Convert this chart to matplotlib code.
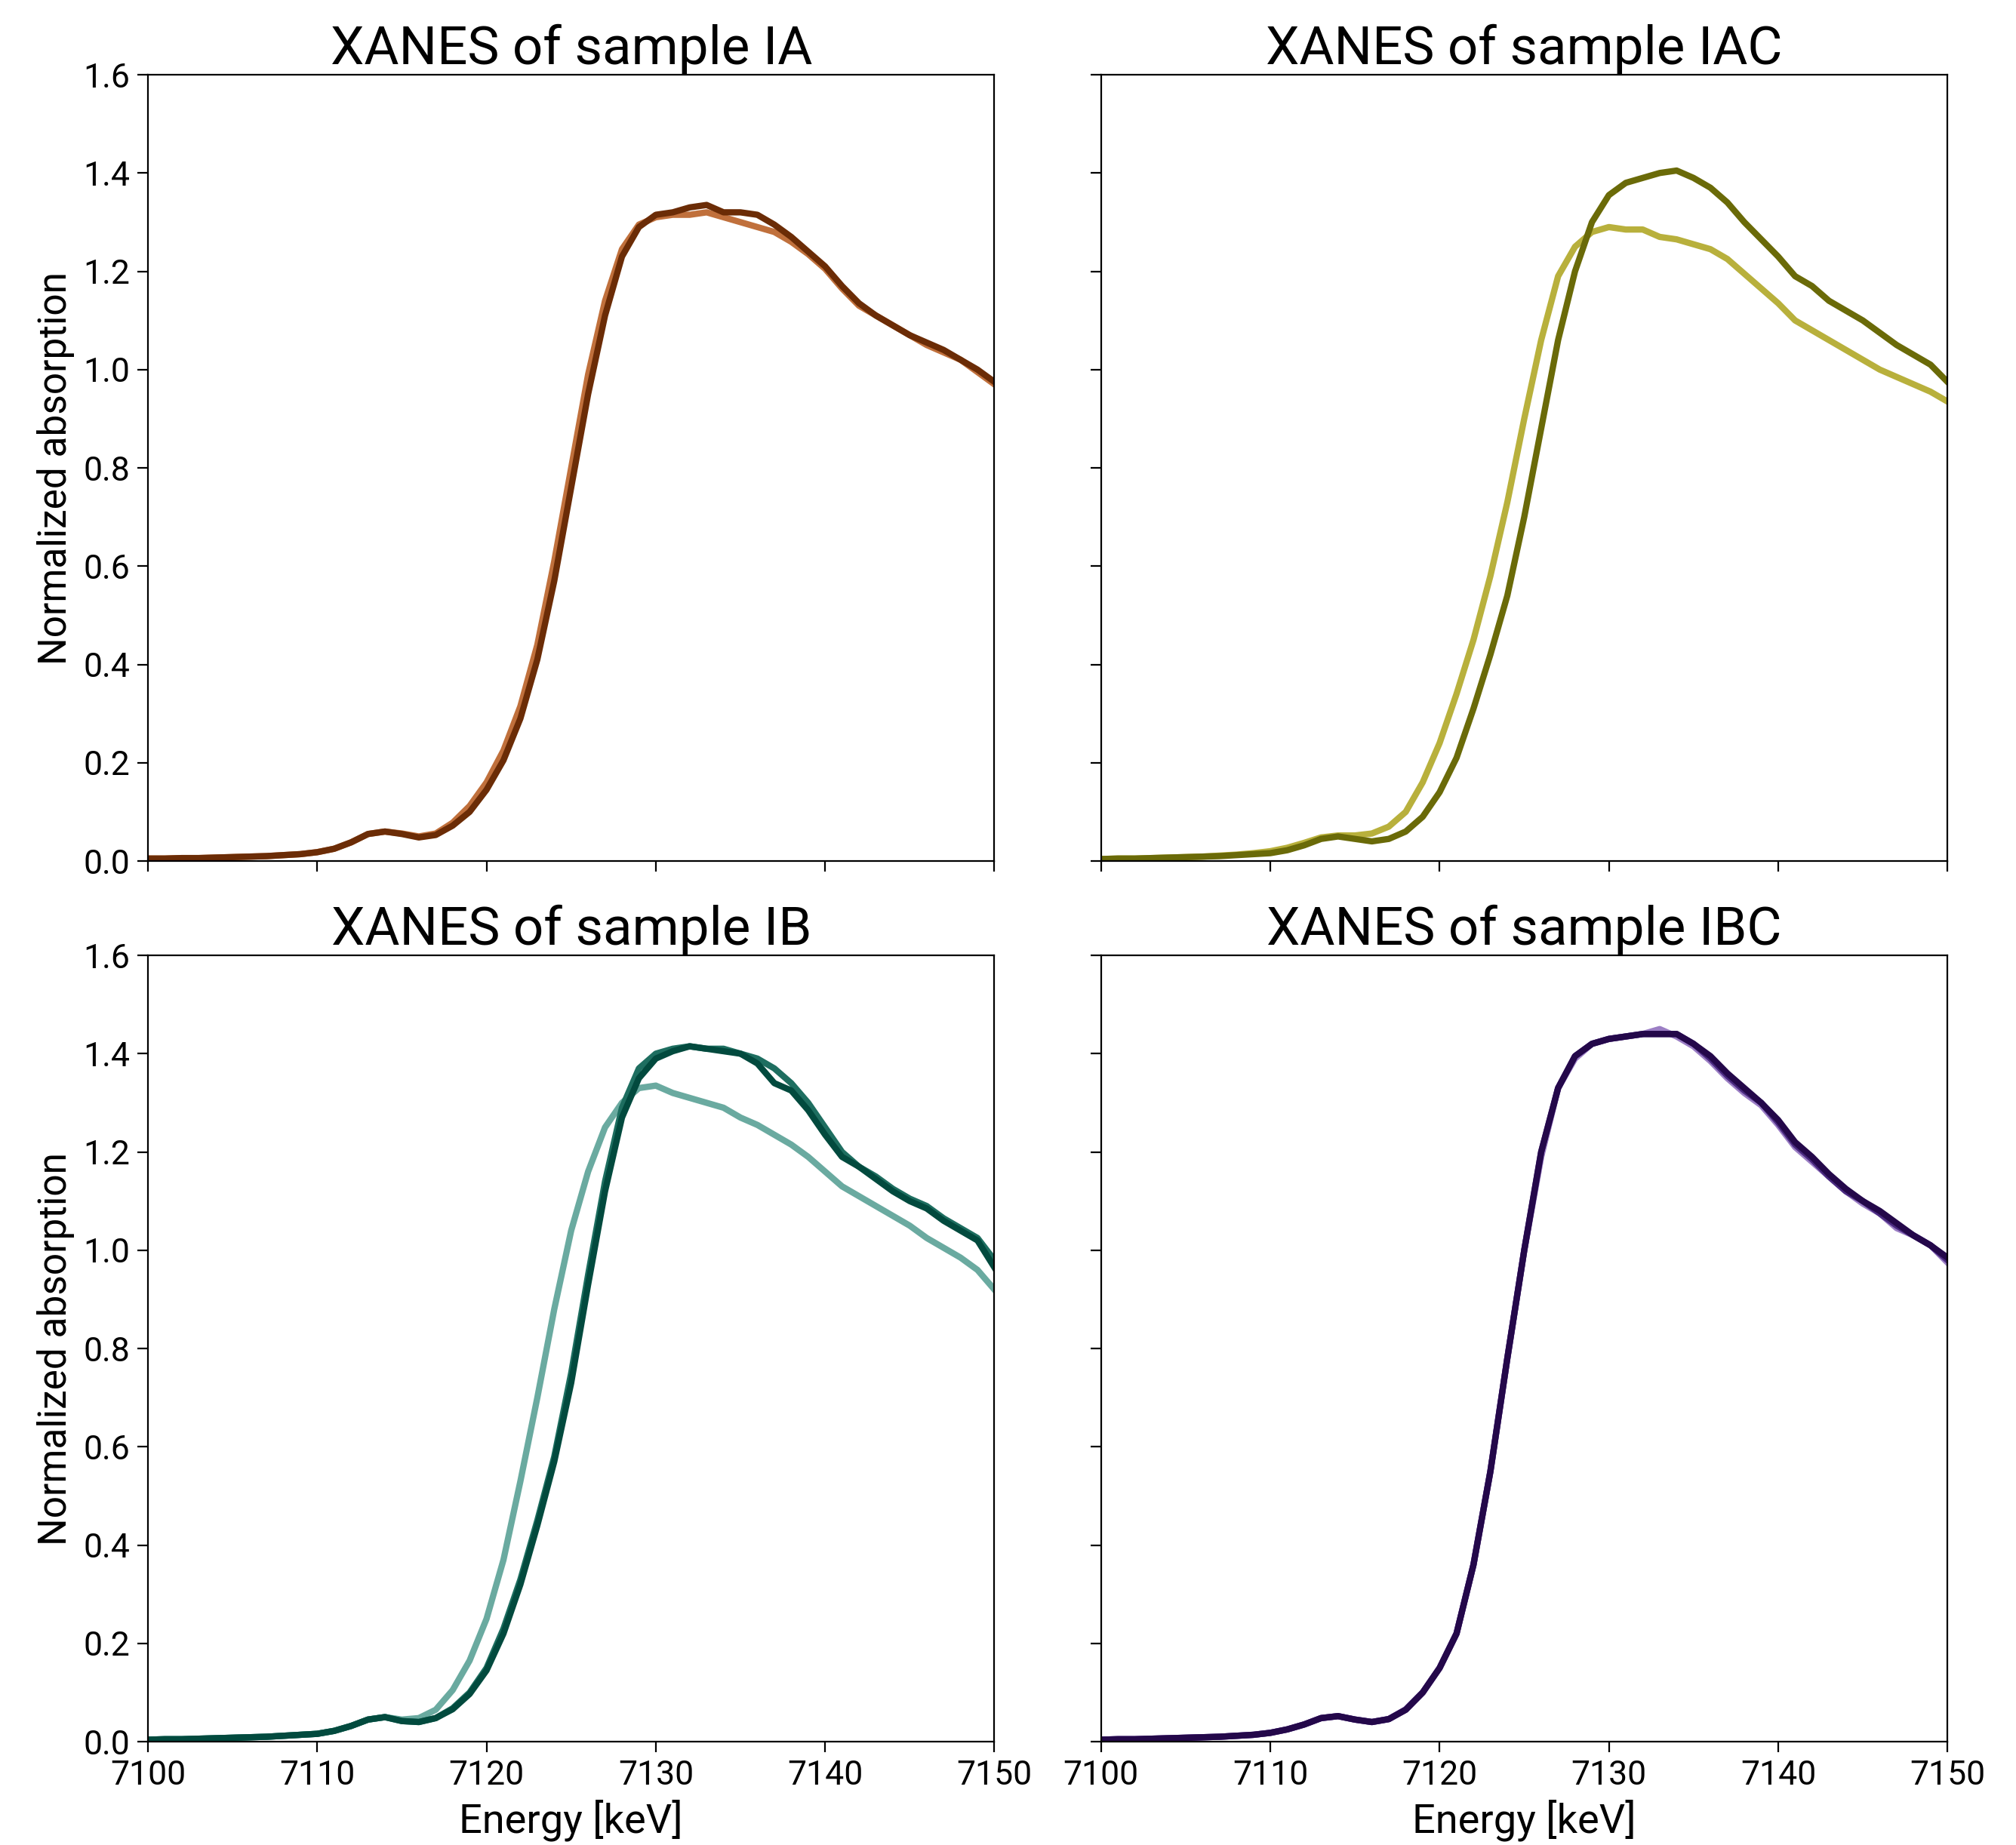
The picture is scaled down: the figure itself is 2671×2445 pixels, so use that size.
import numpy as np
import matplotlib
matplotlib.use("Agg")
import matplotlib.pyplot as plt

plt.rcParams['font.family'] = ['Roboto', 'DejaVu Sans']

energy = list(range(7100, 7151))

# ---- sample IA ----
ia_light = [0.005, 0.005, 0.006, 0.006, 0.007, 0.008, 0.009, 0.010, 0.012, 0.014,
            0.018, 0.025, 0.038, 0.055, 0.060, 0.056, 0.050, 0.056, 0.078, 0.112,
            0.16, 0.225, 0.315, 0.44, 0.61, 0.80, 0.99, 1.14, 1.245, 1.295,
            1.31, 1.315, 1.315, 1.32, 1.31, 1.30, 1.29, 1.28, 1.26, 1.235,
            1.205, 1.165, 1.13, 1.11, 1.09, 1.07, 1.05, 1.035, 1.02, 0.995, 0.97]
ia_dark = [0.005, 0.005, 0.006, 0.006, 0.007, 0.008, 0.009, 0.010, 0.012, 0.014,
           0.018, 0.025, 0.038, 0.055, 0.060, 0.055, 0.048, 0.053, 0.072, 0.10,
           0.145, 0.205, 0.29, 0.41, 0.57, 0.76, 0.95, 1.11, 1.23, 1.29,
           1.315, 1.32, 1.33, 1.335, 1.32, 1.32, 1.315, 1.295, 1.27, 1.24,
           1.21, 1.17, 1.135, 1.11, 1.09, 1.07, 1.055, 1.04, 1.02, 1.00, 0.975]

# ---- sample IAC ----
iac_light = [0.004, 0.005, 0.005, 0.006, 0.007, 0.008, 0.009, 0.011, 0.013, 0.016,
             0.020, 0.027, 0.037, 0.048, 0.052, 0.052, 0.056, 0.070, 0.100, 0.160,
             0.24, 0.34, 0.45, 0.58, 0.73, 0.90, 1.06, 1.19, 1.25, 1.28,
             1.29, 1.285, 1.285, 1.27, 1.265, 1.255, 1.245, 1.225, 1.195, 1.165,
             1.135, 1.10, 1.08, 1.06, 1.04, 1.02, 1.00, 0.985, 0.97, 0.955, 0.935]
iac_dark = [0.004, 0.005, 0.005, 0.006, 0.007, 0.008, 0.009, 0.010, 0.012, 0.014,
            0.016, 0.022, 0.032, 0.045, 0.050, 0.045, 0.040, 0.045, 0.060, 0.090,
            0.14, 0.21, 0.31, 0.42, 0.54, 0.70, 0.88, 1.06, 1.20, 1.30,
            1.355, 1.38, 1.39, 1.40, 1.405, 1.39, 1.37, 1.34, 1.30, 1.265,
            1.23, 1.19, 1.17, 1.14, 1.12, 1.10, 1.075, 1.05, 1.03, 1.01, 0.975]

# ---- sample IB ----
ib_light = [0.004, 0.005, 0.005, 0.006, 0.007, 0.008, 0.009, 0.010, 0.012, 0.014,
            0.016, 0.022, 0.032, 0.045, 0.050, 0.045, 0.048, 0.065, 0.105, 0.165,
            0.25, 0.37, 0.53, 0.70, 0.88, 1.04, 1.16, 1.25, 1.30, 1.33,
            1.335, 1.32, 1.31, 1.30, 1.29, 1.27, 1.255, 1.235, 1.215, 1.19,
            1.16, 1.13, 1.11, 1.09, 1.07, 1.05, 1.025, 1.005, 0.985, 0.96, 0.92]
ib_mid = [0.004, 0.005, 0.005, 0.006, 0.007, 0.008, 0.009, 0.010, 0.012, 0.014,
          0.016, 0.022, 0.032, 0.045, 0.050, 0.042, 0.040, 0.048, 0.068, 0.10,
          0.15, 0.23, 0.33, 0.45, 0.58, 0.75, 0.95, 1.14, 1.29, 1.37,
          1.40, 1.41, 1.415, 1.41, 1.41, 1.40, 1.39, 1.37, 1.34, 1.30,
          1.25, 1.20, 1.17, 1.15, 1.125, 1.105, 1.09, 1.065, 1.045, 1.025, 0.98]
ib_dark = [0.004, 0.005, 0.005, 0.006, 0.007, 0.008, 0.009, 0.010, 0.012, 0.014,
           0.016, 0.022, 0.032, 0.045, 0.050, 0.042, 0.040, 0.048, 0.066, 0.097,
           0.145, 0.22, 0.32, 0.44, 0.57, 0.73, 0.93, 1.12, 1.27, 1.35,
           1.39, 1.405, 1.415, 1.41, 1.405, 1.40, 1.38, 1.34, 1.325, 1.285,
           1.235, 1.19, 1.17, 1.145, 1.12, 1.10, 1.085, 1.06, 1.04, 1.02, 0.965]

# ---- sample IBC ----
ibc_light = [0.004, 0.005, 0.005, 0.006, 0.007, 0.008, 0.009, 0.010, 0.012, 0.014,
             0.018, 0.025, 0.035, 0.048, 0.052, 0.045, 0.040, 0.046, 0.066, 0.10,
             0.15, 0.22, 0.36, 0.55, 0.78, 1.00, 1.19, 1.33, 1.39, 1.42,
             1.43, 1.435, 1.44, 1.45, 1.435, 1.415, 1.385, 1.35, 1.32, 1.295,
             1.255, 1.21, 1.18, 1.15, 1.12, 1.095, 1.075, 1.045, 1.03, 1.01, 0.975]
ibc_mid = [0.004, 0.005, 0.005, 0.006, 0.007, 0.008, 0.009, 0.010, 0.012, 0.014,
           0.018, 0.025, 0.035, 0.048, 0.052, 0.045, 0.040, 0.046, 0.065, 0.10,
           0.15, 0.22, 0.36, 0.55, 0.78, 1.00, 1.20, 1.33, 1.395, 1.42,
           1.43, 1.435, 1.44, 1.44, 1.44, 1.42, 1.39, 1.355, 1.325, 1.30,
           1.26, 1.215, 1.185, 1.15, 1.12, 1.10, 1.075, 1.05, 1.03, 1.01, 0.98]
ibc_dark = [0.004, 0.005, 0.005, 0.006, 0.007, 0.008, 0.009, 0.010, 0.012, 0.014,
            0.018, 0.025, 0.035, 0.048, 0.052, 0.045, 0.040, 0.046, 0.065, 0.10,
            0.15, 0.22, 0.36, 0.55, 0.78, 1.00, 1.20, 1.33, 1.395, 1.42,
            1.43, 1.435, 1.44, 1.44, 1.44, 1.42, 1.395, 1.36, 1.33, 1.30,
            1.265, 1.22, 1.19, 1.155, 1.125, 1.10, 1.08, 1.055, 1.03, 1.01, 0.985]

titles = ["XANES of sample IA", "XANES of sample IAC",
          "XANES of sample IB", "XANES of sample IBC"]
panel_series = [
    [ia_light, ia_dark],
    [iac_light, iac_dark],
    [ib_light, ib_mid, ib_dark],
    [ibc_light, ibc_mid, ibc_dark],
]
panel_colors = [
    ["#C0703C", "#6B2C06"],
    ["#B8B03C", "#6A6A08"],
    ["#6AAAA0", "#1E6E60", "#024A3E"],
    ["#9B7EC4", "#4A2A80", "#24084A"],
]

fig, axes = plt.subplots(2, 2, figsize=(13.355, 12.225), dpi=200,
                         sharex=True, sharey=True)
fig.subplots_adjust(left=0.0734, right=0.966, top=0.9595, bottom=0.056,
                    wspace=0.126, hspace=0.12)

for ax, title, series, colors in zip(axes.flat, titles, panel_series, panel_colors):
    for y, c in zip(series, colors):
        ax.plot(energy, y, color=c, lw=3.0, solid_joinstyle='round')
    ax.set_title(title, fontsize=25.5, pad=5)
    ax.set_xlim(7100, 7150)
    ax.set_ylim(0, 1.6)
    ax.set_xticks([7100, 7110, 7120, 7130, 7140, 7150])
    ax.set_yticks([0.0, 0.2, 0.4, 0.6, 0.8, 1.0, 1.2, 1.4, 1.6])
    ax.tick_params(labelsize=16, length=5, width=0.8)
    for s in ax.spines.values():
        s.set_linewidth(0.8)

for ax in axes[:, 0]:
    ax.set_ylabel("Normalized absorption", fontsize=18.5)
for ax in axes[1, :]:
    ax.set_xlabel("Energy [keV]", fontsize=19.5)

fig.savefig("out.png", dpi=200)
